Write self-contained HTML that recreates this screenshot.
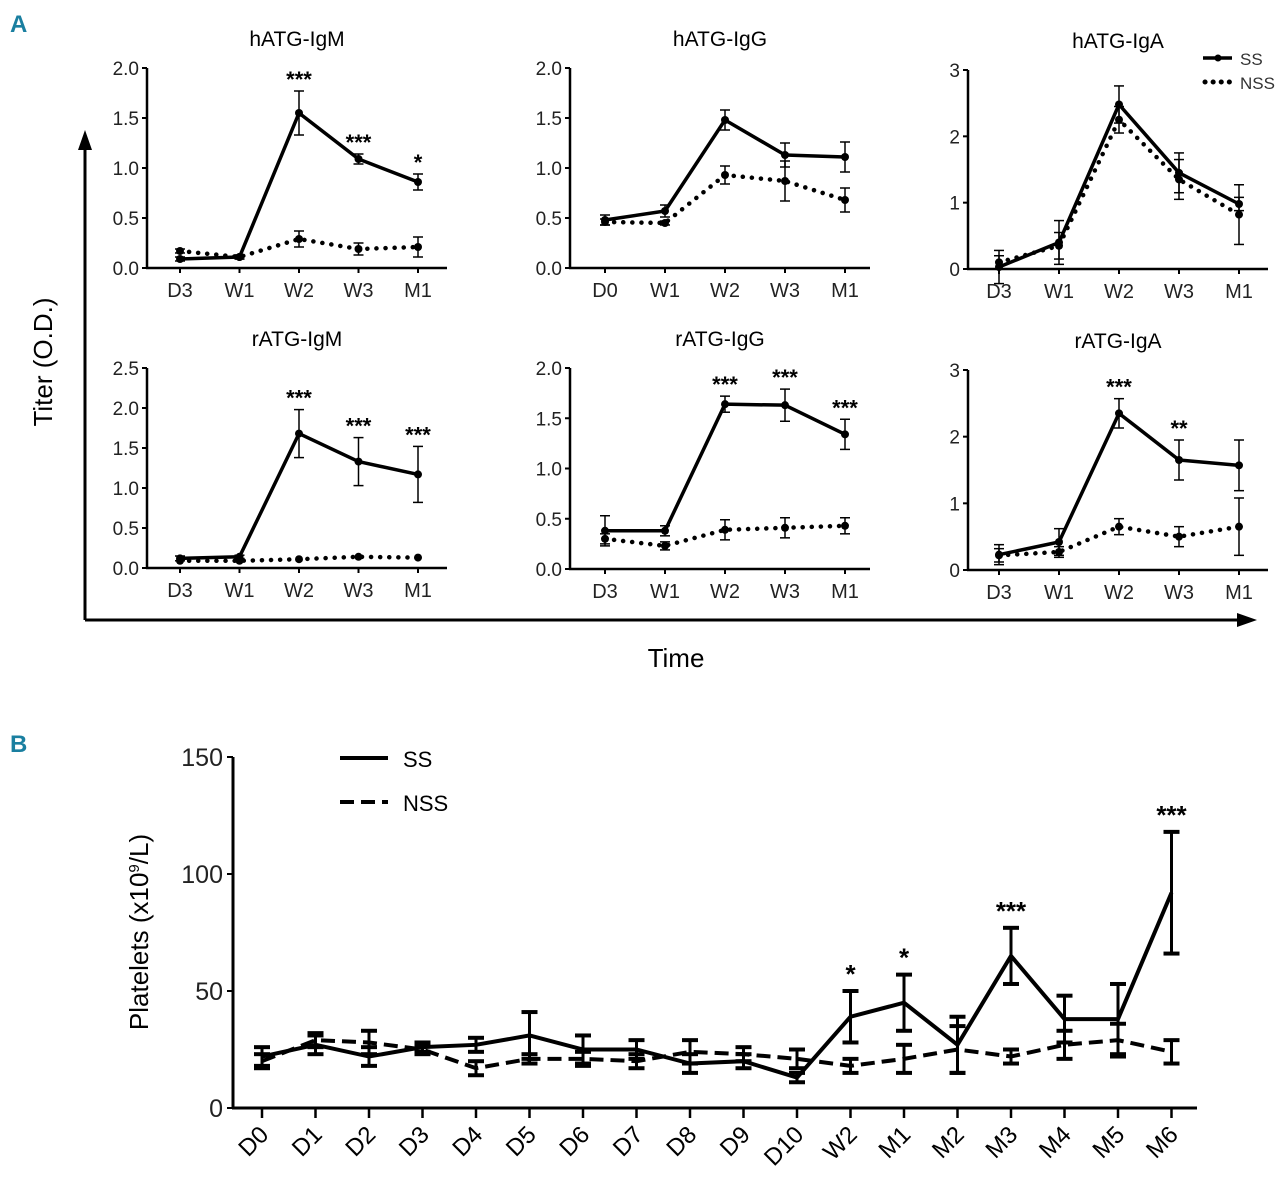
<!DOCTYPE html>
<html><head><meta charset="utf-8"><style>
body{margin:0;background:#fff;}
svg{display:block;font-family:"Liberation Sans",sans-serif;}
</style></head><body>
<svg id="fig" width="1280" height="1185" viewBox="0 0 1280 1185">
<text x="10" y="32" font-size="24" font-weight="bold" fill="#1a7fa0">A</text>
<text x="10" y="752" font-size="24" font-weight="bold" fill="#1a7fa0">B</text>
<g>
<line x1="85" y1="620" x2="85" y2="145" stroke="#000" stroke-width="3"/>
<polygon points="85,130 78,150 92,150" fill="#000"/>
<line x1="85" y1="620" x2="1242" y2="620" stroke="#000" stroke-width="3"/>
<polygon points="1257,620 1237,613 1237,627" fill="#000"/>
<text x="52" y="362" font-size="26" text-anchor="middle" transform="rotate(-90 52 362)">Titer (O.D.)</text>
<text x="676" y="667" font-size="26" text-anchor="middle">Time</text>
</g>
<g>
<line x1="1203" y1="58" x2="1232" y2="58" stroke="#000" stroke-width="3.5"/><circle cx="1218" cy="58" r="3.5"/>
<text x="1240" y="65" font-size="17" fill="#333">SS</text>
<line x1="1205" y1="82" x2="1232" y2="82" stroke="#000" stroke-width="5" stroke-dasharray="0.1,8" stroke-linecap="round"/>
<text x="1240" y="89" font-size="17" fill="#333">NSS</text>
</g>
<g>
<line x1="340" y1="758" x2="388" y2="758" stroke="#000" stroke-width="4"/>
<text x="403" y="767" font-size="22">SS</text>
<line x1="340" y1="802" x2="388" y2="802" stroke="#000" stroke-width="4" stroke-dasharray="14,7"/>
<text x="403" y="811" font-size="22">NSS</text>
</g>
</svg>
<script>
// ---- Panel A data ----
const catA1 = ["D3","W1","W2","W3","M1"];
const catA2 = ["D0","W1","W2","W3","M1"];
const hIgM_ss = [0.09,0.11,1.55,1.09,0.86];
const hIgM_ssErr = [0.02,0.02,0.22,0.05,0.08];
const hIgM_nss = [0.17,0.11,0.29,0.19,0.21];
const hIgM_nssErr = [0.02,0.02,0.08,0.06,0.1];
const hIgG_ss = [0.48,0.57,1.48,1.13,1.11];
const hIgG_ssErr = [0.05,0.06,0.1,0.12,0.15];
const hIgG_nss = [0.46,0.45,0.93,0.87,0.68];
const hIgG_nssErr = [0.03,0.02,0.09,0.2,0.12];
const hIgA_ss = [0.03,0.4,2.48,1.45,0.98];
const hIgA_ssErr = [0.25,0.33,0.28,0.3,0.1];
const hIgA_nss = [0.1,0.35,2.25,1.35,0.82];
const hIgA_nssErr = [0.1,0.2,0.2,0.3,0.45];
const rIgM_ss = [0.12,0.14,1.68,1.33,1.17];
const rIgM_ssErr = [0.03,0.02,0.3,0.3,0.35];
const rIgM_nss = [0.09,0.09,0.11,0.14,0.13];
const rIgM_nssErr = [0,0,0,0,0];
const rIgG_ss = [0.38,0.38,1.64,1.63,1.34];
const rIgG_ssErr = [0.15,0.05,0.08,0.16,0.15];
const rIgG_nss = [0.3,0.23,0.39,0.41,0.43];
const rIgG_nssErr = [0.05,0.04,0.1,0.1,0.08];
const rIgA_ss = [0.23,0.42,2.35,1.65,1.57];
const rIgA_ssErr = [0.15,0.2,0.22,0.3,0.38];
const rIgA_nss = [0.22,0.27,0.65,0.5,0.65];
const rIgA_nssErr = [0.1,0.08,0.12,0.15,0.43];
const ticksA20 = ["0.0","0.5","1.0","1.5","2.0"];
const ticksA25 = ["0.0","0.5","1.0","1.5","2.0","2.5"];
const ticksA3 = ["0","1","2","3"];
const starsIgM = ["","","***","***","*"];
const starsNone = ["","","","",""];
const starsR3 = ["","","***","***","***"];
const starsRIgA = ["","","***","**",""];

// ---- Panel B data ----
const catB = ["D0","D1","D2","D3","D4","D5","D6","D7","D8","D9","D10","W2","M1","M2","M3","M4","M5","M6"];
const plt_ss = [22,27,22,26,27,31,25,25,19,20,13,39,45,27,65,38,38,92];
const plt_ssErr = [4,4,4,2,3,10,6,4,4,3,2,11,12,12,12,10,15,26];
const plt_nss = [20,29,28,25,17,21,21,20,24,23,21,18,21,25,22,27,29,24];
const plt_nssErr = [3,3,5,2,3,2,3,3,5,3,4,3,6,10,3,6,7,5];
const ticksB = [0,50,100,150];
const starsB = ["","","","","","","","","","","","*","*","","***","","","***"];

const NS="http://www.w3.org/2000/svg";
const svg=document.getElementById('fig');
function mk(tag,attrs,parent){const e=document.createElementNS(NS,tag);for(const k in attrs)e.setAttribute(k,attrs[k]);(parent||svg).appendChild(e);return e;}

function smallPlot(o){
  const g=mk('g',{});
  
  
  const ymax=o.ymax, y=v=>o.y0-(v/ymax)*(o.y0-o.y1);
  const x=i=>o.xs+i*o.dx;
  const t=mk('text',{x:o.ax+150,y:o.y1-22,'font-size':21,'text-anchor':'middle'},g);t.textContent=o.title;
  
  
  mk('line',{x1:o.ax,y1:o.y1,x2:o.ax,y2:o.y0+1,stroke:'#000','stroke-width':2.5},g);
  mk('line',{x1:o.ax-1,y1:o.y0,x2:o.ax+300,y2:o.y0,stroke:'#000','stroke-width':2.5},g);
  o.ticks.forEach((lab,i)=>{const v=parseFloat(lab);const yy=y(v);
    mk('line',{x1:o.ax-5,y1:yy,x2:o.ax,y2:yy,stroke:'#000','stroke-width':2},g);
    const tt=mk('text',{x:o.ax-8,y:yy+7,'font-size':19,'text-anchor':'end',fill:'#222'},g);tt.textContent=lab;
    
    });
  o.cats.forEach((c,i)=>{mk('line',{x1:x(i),y1:o.y0,x2:x(i),y2:o.y0+5,stroke:'#000','stroke-width':2},g);
    const tt=mk('text',{x:x(i),y:o.y0+29,'font-size':20,'text-anchor':'middle',fill:'#222'},g);tt.textContent=c;
    
    });
  [[o.nss,o.nssE,'0.1,9',4.5,'nss'],[o.ss,o.ssE,null,3.5,'ss']].forEach(([d,e,dash,w,nm])=>{
    const p=mk('polyline',{points:d.map((v,i)=>x(i)+','+y(v)).join(' '),fill:'none',stroke:'#000','stroke-width':w,'stroke-linecap':'round','stroke-linejoin':'round'},g);
    if(dash)p.setAttribute('stroke-dasharray',dash);
    
    
    d.forEach((v,i)=>{
      if(e[i]>0){const a=y(v+e[i]),b=y(v-e[i]);
        mk('line',{x1:x(i),y1:a,x2:x(i),y2:b,stroke:'#000','stroke-width':1.5},g);
        mk('line',{x1:x(i)-5,y1:a,x2:x(i)+5,y2:a,stroke:'#000','stroke-width':1.5},g);
        mk('line',{x1:x(i)-5,y1:b,x2:x(i)+5,y2:b,stroke:'#000','stroke-width':1.5},g);}
      const c=mk('circle',{cx:x(i),cy:y(v),r:4},g);
      
      
    });
  });
  o.stars.forEach((s,i)=>{if(!s)return;const top=y(o.ss[i]+o.ssE[i]);
    const tt=mk('text',{x:x(i),y:top-4,'font-size':22,'font-weight':'bold','text-anchor':'middle'},g);tt.textContent=s;
    
    });
}
smallPlot({name:'plot-hatg-igm',title:'hATG-IgM',ax:147,y0:268,y1:68,ymax:2,xs:180,dx:59.5,cats:catA1,ticks:ticksA20,ss:hIgM_ss,ssE:hIgM_ssErr,nss:hIgM_nss,nssE:hIgM_nssErr,stars:starsIgM});
smallPlot({name:'plot-hatg-igg',title:'hATG-IgG',ax:570,y0:268,y1:68,ymax:2,xs:605,dx:60,cats:catA2,ticks:ticksA20,ss:hIgG_ss,ssE:hIgG_ssErr,nss:hIgG_nss,nssE:hIgG_nssErr,stars:starsNone});
smallPlot({name:'plot-hatg-iga',title:'hATG-IgA',ax:968,y0:269,y1:70,ymax:3,xs:999,dx:60,cats:catA1,ticks:ticksA3,ss:hIgA_ss,ssE:hIgA_ssErr,nss:hIgA_nss,nssE:hIgA_nssErr,stars:starsNone});
smallPlot({name:'plot-ratg-igm',title:'rATG-IgM',ax:147,y0:568,y1:368,ymax:2.5,xs:180,dx:59.5,cats:catA1,ticks:ticksA25,ss:rIgM_ss,ssE:rIgM_ssErr,nss:rIgM_nss,nssE:rIgM_nssErr,stars:starsR3});
smallPlot({name:'plot-ratg-igg',title:'rATG-IgG',ax:570,y0:569,y1:368,ymax:2,xs:605,dx:60,cats:catA1,ticks:ticksA20,ss:rIgG_ss,ssE:rIgG_ssErr,nss:rIgG_nss,nssE:rIgG_nssErr,stars:starsR3});
smallPlot({name:'plot-ratg-iga',title:'rATG-IgA',ax:968,y0:570,y1:370,ymax:3,xs:999,dx:60,cats:catA1,ticks:ticksA3,ss:rIgA_ss,ssE:rIgA_ssErr,nss:rIgA_nss,nssE:rIgA_nssErr,stars:starsRIgA});

// Panel B
(function(){
  const g=mk('g',{});
  
  
  const ax=233,y0=1108,y1=757,xs=262,dx=53.5;
  const y=v=>y0-(v/150)*(y0-y1), x=i=>xs+i*dx;
  mk('line',{x1:ax,y1:y1,x2:ax,y2:y0+1,stroke:'#000','stroke-width':3},g);
  mk('line',{x1:ax-1,y1:y0,x2:1197,y2:y0,stroke:'#000','stroke-width':3},g);
  const yt=mk('text',{x:148,y:932,'font-size':26,'text-anchor':'middle',transform:'rotate(-90 148 932)'},g);
  yt.innerHTML='Platelets (x10<tspan dy="-9" font-size="15">9</tspan><tspan dy="9">/L)</tspan>';
  
  
  ticksB.forEach(v=>{const yy=y(v);mk('line',{x1:ax-6,y1:yy,x2:ax,y2:yy,stroke:'#000','stroke-width':2},g);
    const t=mk('text',{x:ax-10,y:yy+9,'font-size':25,'text-anchor':'end',fill:'#222'},g);t.textContent=v;
    
    });
  catB.forEach((c,i)=>{mk('line',{x1:x(i),y1:y0,x2:x(i),y2:y0+10,stroke:'#000','stroke-width':2.5},g);
    const t=mk('text',{x:x(i)+8,y:y0+28,'font-size':24,'text-anchor':'end',transform:`rotate(-45 ${x(i)+8} ${y0+28})`},g);t.textContent=c;
    
    });
  [[plt_nss,plt_nssErr,'14,7','nss'],[plt_ss,plt_ssErr,null,'ss']].forEach(([d,e,dash,nm])=>{
    const p=mk('polyline',{points:d.map((v,i)=>x(i)+','+y(v)).join(' '),fill:'none',stroke:'#000','stroke-width':4},g);
    if(dash)p.setAttribute('stroke-dasharray',dash);
    
    
    d.forEach((v,i)=>{const a=y(v+e[i]),b=y(v-e[i]);
      mk('line',{x1:x(i),y1:a,x2:x(i),y2:b,stroke:'#000','stroke-width':3},g);
      mk('line',{x1:x(i)-8,y1:a,x2:x(i)+8,y2:a,stroke:'#000','stroke-width':4},g);
      mk('line',{x1:x(i)-8,y1:b,x2:x(i)+8,y2:b,stroke:'#000','stroke-width':4},g);});
  });
  starsB.forEach((s,i)=>{if(!s)return;const t=mk('text',{x:x(i),y:y(plt_ss[i]+plt_ssErr[i])-8,'font-size':26,'font-weight':'bold','text-anchor':'middle'},g);t.textContent=s;
    
    });
})();
</script>
</body></html>
